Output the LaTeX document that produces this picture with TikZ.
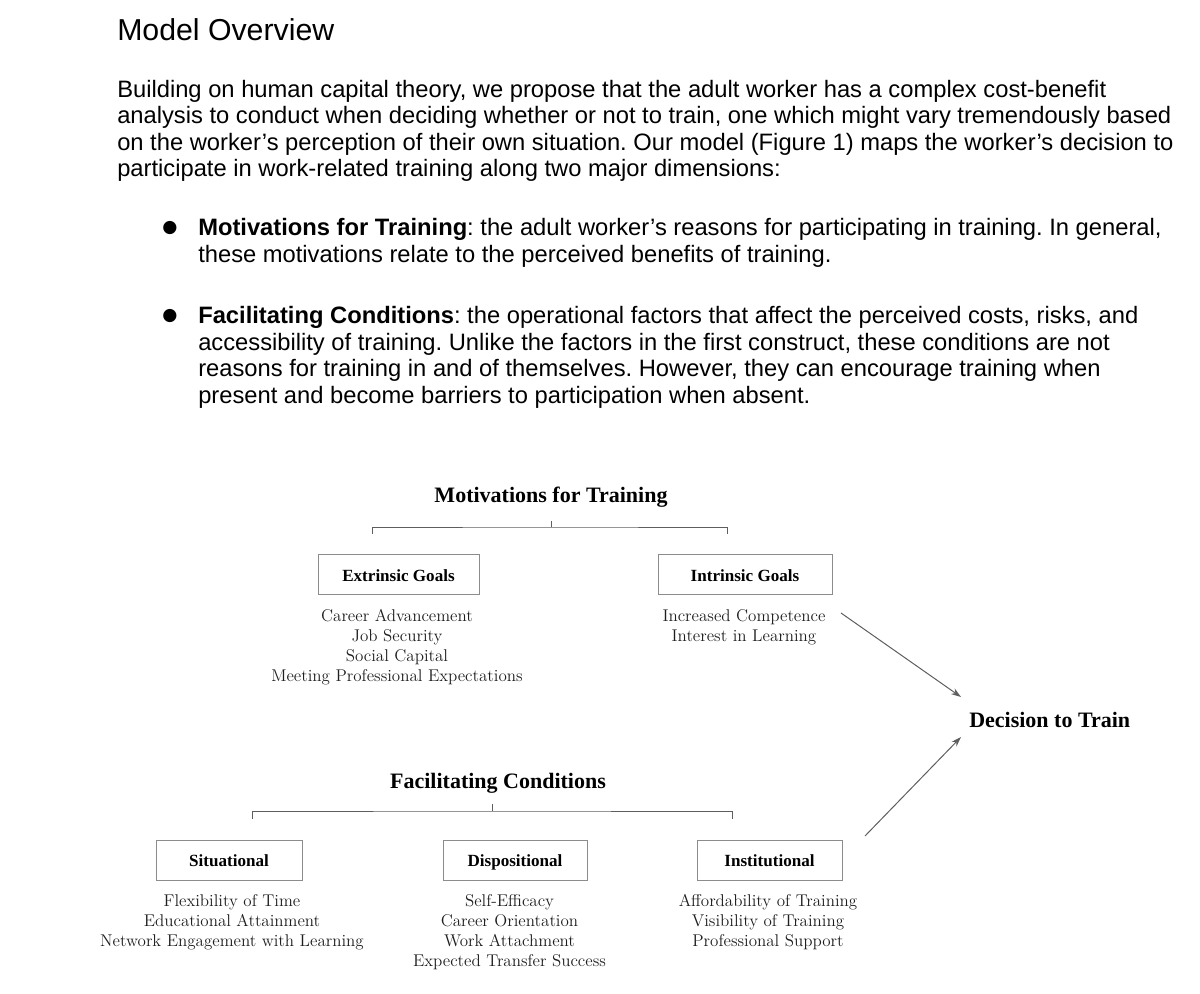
\documentclass[tikz,border=0pt]{standalone}
\usepackage{fontspec}
\usetikzlibrary{arrows.meta}
\newfontfamily\arialf{Liberation Sans}
\newfontfamily\timesf{Liberation Serif}
\newfontfamily\dejavuf{DejaVu Sans}
\definecolor{linegray}{HTML}{5E5E5E}
\definecolor{boxgray}{HTML}{8C8C8C}
\definecolor{listgray}{HTML}{1E1E1E}
\frenchspacing
\tikzset{
  x=0.75pt, y=-0.75pt,
  bodytxt/.style={font=\arialf\fontsize{17.8}{21}\selectfont, anchor=base west, inner sep=0pt},
  titletxt/.style={font=\arialf\fontsize{22.7}{26}\selectfont, anchor=base west, inner sep=0pt},
  bulletmk/.style={font=\dejavuf\fontsize{13}{15}\selectfont, inner sep=0pt},
  headtxt/.style={font=\timesf\bfseries\fontsize{16.5}{19}\selectfont, anchor=base, inner sep=0pt},
  boxlbl/.style={draw=boxgray, line width=0.6pt, minimum height=30pt, inner sep=0pt,
     text height=1.2em, text depth=0.22em,
     font=\timesf\bfseries\fontsize{12.8}{15}\selectfont},
  listtxt/.style={font=\fontsize{12.75}{15}\selectfont, text=listgray, align=center, anchor=north, inner sep=0pt},
  brk/.style={draw=linegray, line width=0.6pt},
  arr/.style={draw=linegray, line width=0.75pt, -{Stealth[length=7.5pt,width=5pt]}}
}
\begin{document}
\begin{tikzpicture}
\useasboundingbox (0,0) rectangle (1200,994);
% ---- text above the diagram ----
\node[titletxt] (title) at (117,40.5) {Model Overview};
\node[bodytxt] (p1) at (117,97.5) {Building on human capital theory, we propose that the adult worker has a complex cost-benefit};
\node[bodytxt] (p2) at (117,124) {analysis to conduct when deciding whether or not to train, one which might vary tremendously based};
\node[bodytxt] (p3) at (117,150.5) {on the worker’s perception of their own situation. Our model (Figure 1) maps the worker’s decision to};
\node[bodytxt] (p4) at (117,177) {participate in work-related training along two major dimensions:};
\node[bulletmk] (b1) at (170,228.5) {●};
\node[bodytxt] (b1a) at (198,236) {\textbf{Motivations for Training}: the adult worker’s reasons for participating in training. In general,};
\node[bodytxt] (b1b) at (198,262.5) {these motivations relate to the perceived benefits of training.};
\node[bulletmk] (b2) at (170,316.5) {●};
\node[bodytxt] (b2a) at (198,324) {\textbf{Facilitating Conditions}: the operational factors that affect the perceived costs, risks, and};
\node[bodytxt] (b2b) at (198,350.5) {accessibility of training. Unlike the factors in the first construct, these conditions are not};
\node[bodytxt] (b2c) at (198,377) {reasons for training in and of themselves. However, they can encourage training when};
\node[bodytxt] (b2d) at (198,403.5) {present and become barriers to participation when absent.};
% ---- diagram: motivations ----
\node[headtxt] (mot) at (551,502.5) {Motivations for Training};
\coordinate (mtop) at (551,521);
\coordinate (mmid) at (551,527);
\coordinate (ml) at (372,534);
\coordinate (mr) at (727,534);
\draw[brk] (mtop) -- (mmid);
\draw[brk] (ml) |- (mmid) -| (mr);
\node[boxlbl, minimum width=120.75pt] (ext) at (398.5,574.5) {Extrinsic Goals};
\node[boxlbl, minimum width=130.5pt] (int) at (745,574.5) {Intrinsic Goals};
\node[listtxt] (extl) at (397,609.5) {Career Advancement\\Job Security\\Social Capital\\Meeting Professional Expectations};
\node[listtxt] (intl) at (744,609.5) {Increased Competence\\Interest in Learning};
% ---- decision ----
\node[headtxt, anchor=base west] (dec) at (969,727.5) {Decision to Train};
% ---- diagram: facilitating conditions ----
\node[headtxt] (fac) at (498,788) {Facilitating Conditions};
\coordinate (ftop) at (492,804);
\coordinate (fmid) at (492,811);
\coordinate (fl) at (252,819);
\coordinate (fr) at (732,819);
\draw[brk] (ftop) -- (fmid);
\draw[brk] (fl) |- (fmid) -| (fr);
\node[boxlbl, minimum width=109.5pt] (sit) at (229,860) {Situational};
\node[boxlbl, minimum width=108pt] (dis) at (515,860) {Dispositional};
\node[boxlbl, minimum width=108.75pt] (ins) at (769.5,860) {Institutional};
\node[listtxt] (sitl) at (232,894.5) {Flexibility of Time\\Educational Attainment\\Network Engagement with Learning};
\node[listtxt] (disl) at (509.5,894.5) {Self-Efficacy\\Career Orientation\\Work Attachment\\Expected Transfer Success};
\node[listtxt] (insl) at (768,894.5) {Affordability of Training\\Visibility of Training\\Professional Support};
% ---- arrows ----
\coordinate (a1s) at (841,613);
\coordinate (a1e) at (961,697);
\coordinate (a2s) at (865,836);
\coordinate (a2e) at (961,737);
\draw[arr] (a1s) -- (a1e);
\draw[arr] (a2s) -- (a2e);
\end{tikzpicture}
\end{document}
